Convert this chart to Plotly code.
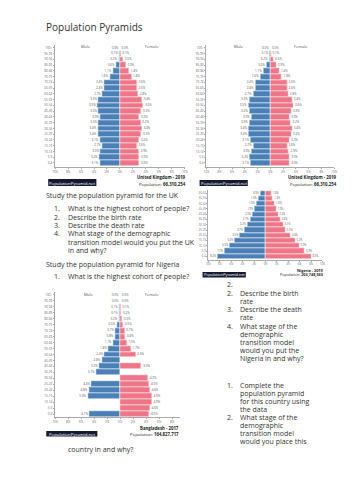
import plotly.graph_objects as go

W, H = 353, 500

ages = ["0-4", "5-9", "10-14", "15-19", "20-24", "25-29", "30-34", "35-39", "40-44", "45-49",
        "50-54", "55-59", "60-64", "65-69", "70-74", "75-79", "80-84", "85-89", "90-94", "95-99", "100+"]

uk_male = [3.1, 3.2, 3.0, 2.7, 3.1, 3.4, 3.4, 3.3, 3.0, 3.3, 3.5, 3.3, 2.7, 2.4, 2.4, 1.6, 1.1, 0.6, 0.2, 0.1, 0.0]
uk_female = [3.0, 3.0, 2.9, 2.6, 3.0, 3.3, 3.4, 3.2, 3.0, 3.3, 3.6, 3.4, 2.8, 2.6, 2.6, 1.8, 1.4, 0.9, 0.5, 0.1, 0.0]

ng_ages = ages[:13]
ng_male = [8.4, 7.2, 6.3, 5.4, 4.5, 3.7, 3.2, 2.7, 2.3, 1.9, 1.6, 1.3, 0.9]
ng_female = [8.0, 6.9, 5.9, 5.2, 4.4, 3.5, 3.1, 2.6, 2.2, 1.9, 1.6, 1.3, 1.0]

bd_male = [4.7, None, None, 5.0, 4.8, 4.4, None, 3.7, 3.2, 2.8, 2.4, 1.8, 1.1, 0.8, 0.7, 0.5, 0.2, 0.1, 0.1, 0.0, 0.0]
bd_female = [4.5, 4.6, 4.9, 4.9, 4.6, 4.5, 4.3, None, 3.3, None, 2.4, 1.7, 1.0, 0.8, 0.7, 0.5, 0.3, 0.2, 0.1, 0.0, 0.0]

tick_vals = [-10, -8, -6, -4, -2, 0, 2, 4, 6, 8, 10]
tick_text = ["10%", "8%", "6%", "4%", "2%", "0%", "2%", "4%", "6%", "8%", "10%"]

MALE = "#4a80b6"
FEMALE = "#ef7688"
FONT = "Open Sans"
TXT = "#333333"


def fx(px):
    return px / W


def fy(py):
    return 1 - py / H


fig = go.Figure()
layout = {}
annotations = []
shapes = []


def pyramid(i, labels, male, female, xpx, ypx, xrange, yrange, fs=3.0):
    xa = "x" if i == 1 else f"x{i}"
    ya = "y" if i == 1 else f"y{i}"
    idx = list(range(len(labels)))
    mvals = [None if v is None else -v for v in male]
    fig.add_trace(go.Bar(orientation="h", y=idx, x=mvals, marker=dict(color=MALE, line=dict(color="white", width=0.5)),
                         width=1, xaxis=xa, yaxis=ya, showlegend=False, hoverinfo="skip"))
    fig.add_trace(go.Bar(orientation="h", y=idx, x=female, marker=dict(color=FEMALE, line=dict(color="white", width=0.5)),
                         width=1, xaxis=xa, yaxis=ya, showlegend=False, hoverinfo="skip"))
    my = [j for j, v in zip(idx, male) if v is not None]
    mx = [-v for v in male if v is not None]
    mt = [f"{v:.1f}%" for v in male if v is not None]
    fy_ = [j for j, v in zip(idx, female) if v is not None]
    fx_ = [v for v in female if v is not None]
    ft = [f"{v:.1f}%" for v in female if v is not None]
    fig.add_trace(go.Scatter(x=[v - 0.25 for v in mx], y=my, text=mt, mode="text", textposition="middle left",
                             textfont=dict(size=fs, color="#555", family=FONT), xaxis=xa, yaxis=ya,
                             showlegend=False, hoverinfo="skip", cliponaxis=False))
    fig.add_trace(go.Scatter(x=[v + 0.25 for v in fx_], y=fy_, text=ft, mode="text", textposition="middle right",
                             textfont=dict(size=fs, color="#555", family=FONT), xaxis=xa, yaxis=ya,
                             showlegend=False, hoverinfo="skip", cliponaxis=False))
    kx = "xaxis" if i == 1 else f"xaxis{i}"
    ky = "yaxis" if i == 1 else f"yaxis{i}"
    layout[kx] = dict(domain=[fx(xpx[0]), fx(xpx[1])], range=xrange, anchor=ya, tickvals=tick_vals,
                      ticktext=tick_text, tickfont=dict(size=fs, color="#666", family=FONT), showgrid=False,
                      zeroline=False, showline=True, linecolor="#aaaaaa", linewidth=0.6, ticks="outside",
                      ticklen=1.5, tickcolor="#aaaaaa", tickwidth=0.5, fixedrange=True)
    layout[ky] = dict(domain=[fy(ypx[1]), fy(ypx[0])], range=yrange, anchor=xa, tickvals=idx, ticktext=labels,
                      tickfont=dict(size=fs, color="#666", family=FONT), showgrid=False, zeroline=False,
                      showline=True, linecolor="#aaaaaa", linewidth=0.6, ticks="outside", ticklen=1.5,
                      tickcolor="#aaaaaa", tickwidth=0.5, fixedrange=True)


def footer(badge, country, population, right_x, y1, y2, fs=4.3):
    x0, x1, b0, b1 = badge
    shapes.append(dict(type="rect", xref="paper", yref="paper", x0=fx(x0), x1=fx(x1), y0=fy(b1), y1=fy(b0),
                       fillcolor="#151a30", line=dict(width=0)))
    annotations.append(dict(x=fx((x0 + x1) / 2), y=fy((b0 + b1) / 2), xref="paper", yref="paper",
                            text="PopulationPyramid.net", showarrow=False, xanchor="center", yanchor="middle",
                            font=dict(size=fs, color="white", family=FONT)))
    annotations.append(dict(x=fx(right_x), y=fy(y1), xref="paper", yref="paper", text=f"<b>{country}</b>",
                            showarrow=False, xanchor="right", yanchor="middle",
                            font=dict(size=fs, color="#222", family=FONT)))
    annotations.append(dict(x=fx(right_x), y=fy(y2), xref="paper", yref="paper",
                            text=f"Population: <b>{population}</b>", showarrow=False, xanchor="right",
                            yanchor="middle", font=dict(size=fs, color="#222", family=FONT)))


def sex_labels(mx, fxp, y):
    for x, t in ((mx, "Male"), (fxp, "Female")):
        annotations.append(dict(x=fx(x), y=fy(y), xref="paper", yref="paper", text=t, showarrow=False,
                                xanchor="center", yanchor="middle", font=dict(size=4, color="#555", family=FONT)))


# UK left
pyramid(1, ages, uk_male, uk_female, (53, 185), (45, 167), [-10, 10], [-0.7, 20.5])
sex_labels(84, 152, 47)
footer((46, 95, 179, 186), "United Kingdom - 2019", "66,310,254", 188, 177, 183.5)

# UK right
pyramid(2, ages, uk_male, uk_female, (207, 337), (45, 167), [-10, 10], [-0.7, 20.5])
sex_labels(240, 303, 47)
footer((200, 249, 180, 186), "United Kingdom - 2019", "66,310,254", 342, 177, 183.5)

# Nigeria
pyramid(3, ng_ages, ng_male, ng_female, (209, 325), (190, 260), [-10, 10], [-0.7, 12.6], fs=2.6)
footer((203, 247, 272, 277.5), "Nigeria - 2019", "203,748,560", 329, 270, 274.5, fs=3.8)

# Bangladesh
pyramid(4, ages, bd_male, bd_female, (53, 180), (292, 417), [-10, 9.2], [-0.5, 20.5])
sex_labels(87, 152, 294)
footer((44, 96, 431, 436.5), "Bangladesh - 2017", "164,827,717", 181, 428, 433.5)


def text(x, y, t, size=7, anchor="left"):
    annotations.append(dict(x=fx(x), y=fy(y), xref="paper", yref="paper", text=t, showarrow=False,
                            xanchor=anchor, yanchor="middle", font=dict(size=size, color=TXT, family=FONT)))


def item(num, xn, xt, y, t):
    if num:
        text(xn, y, num, anchor="right")
    if t:
        text(xt, y, t)


text(42, 27, "Population Pyramids", size=10)

text(42, 195, "Study the population pyramid for the UK")
left_items = [("1.", 209, "What is the highest cohort of people?"),
              ("2.", 217.5, "Describe the birth rate"),
              ("3.", 225.5, "Describe the death rate"),
              ("4.", 233.5, "What stage of the demographic"),
              ("", 242, "transition model would you put the UK"),
              ("", 250.5, "in and why?")]
for n, y, t in left_items:
    item(n, 60, 64, y, t)

text(42, 264, "Study the population pyramid for Nigeria")
item("1.", 60, 64, 276, "What is the highest cohort of people?")
text(64, 449, "country in and why?")

right_items = [("2.", 284, ""),
               ("2.", 293, "Describe the birth"),
               ("", 301, "rate"),
               ("3.", 309, "Describe the death"),
               ("", 317, "rate"),
               ("4.", 326, "What stage of the"),
               ("", 334, "demographic"),
               ("", 342, "transition model"),
               ("", 350, "would you put the"),
               ("", 358, "Nigeria in and why?"),
               ("1.", 385, "Complete the"),
               ("", 393, "population pyramid"),
               ("", 401, "for this country using"),
               ("", 409, "the data"),
               ("2.", 417, "What stage of the"),
               ("", 425, "demographic"),
               ("", 433, "transition model"),
               ("", 441, "would you place this")]
for n, y, t in right_items:
    item(n, 236, 239, y, t)

fig.update_layout(width=W, height=H, margin=dict(l=0, r=0, t=0, b=0), paper_bgcolor="white",
                  plot_bgcolor="white", barmode="relative", bargap=0, showlegend=False,
                  annotations=annotations, shapes=shapes, **layout)

fig.write_html("out.html", config={"displayModeBar": False})
